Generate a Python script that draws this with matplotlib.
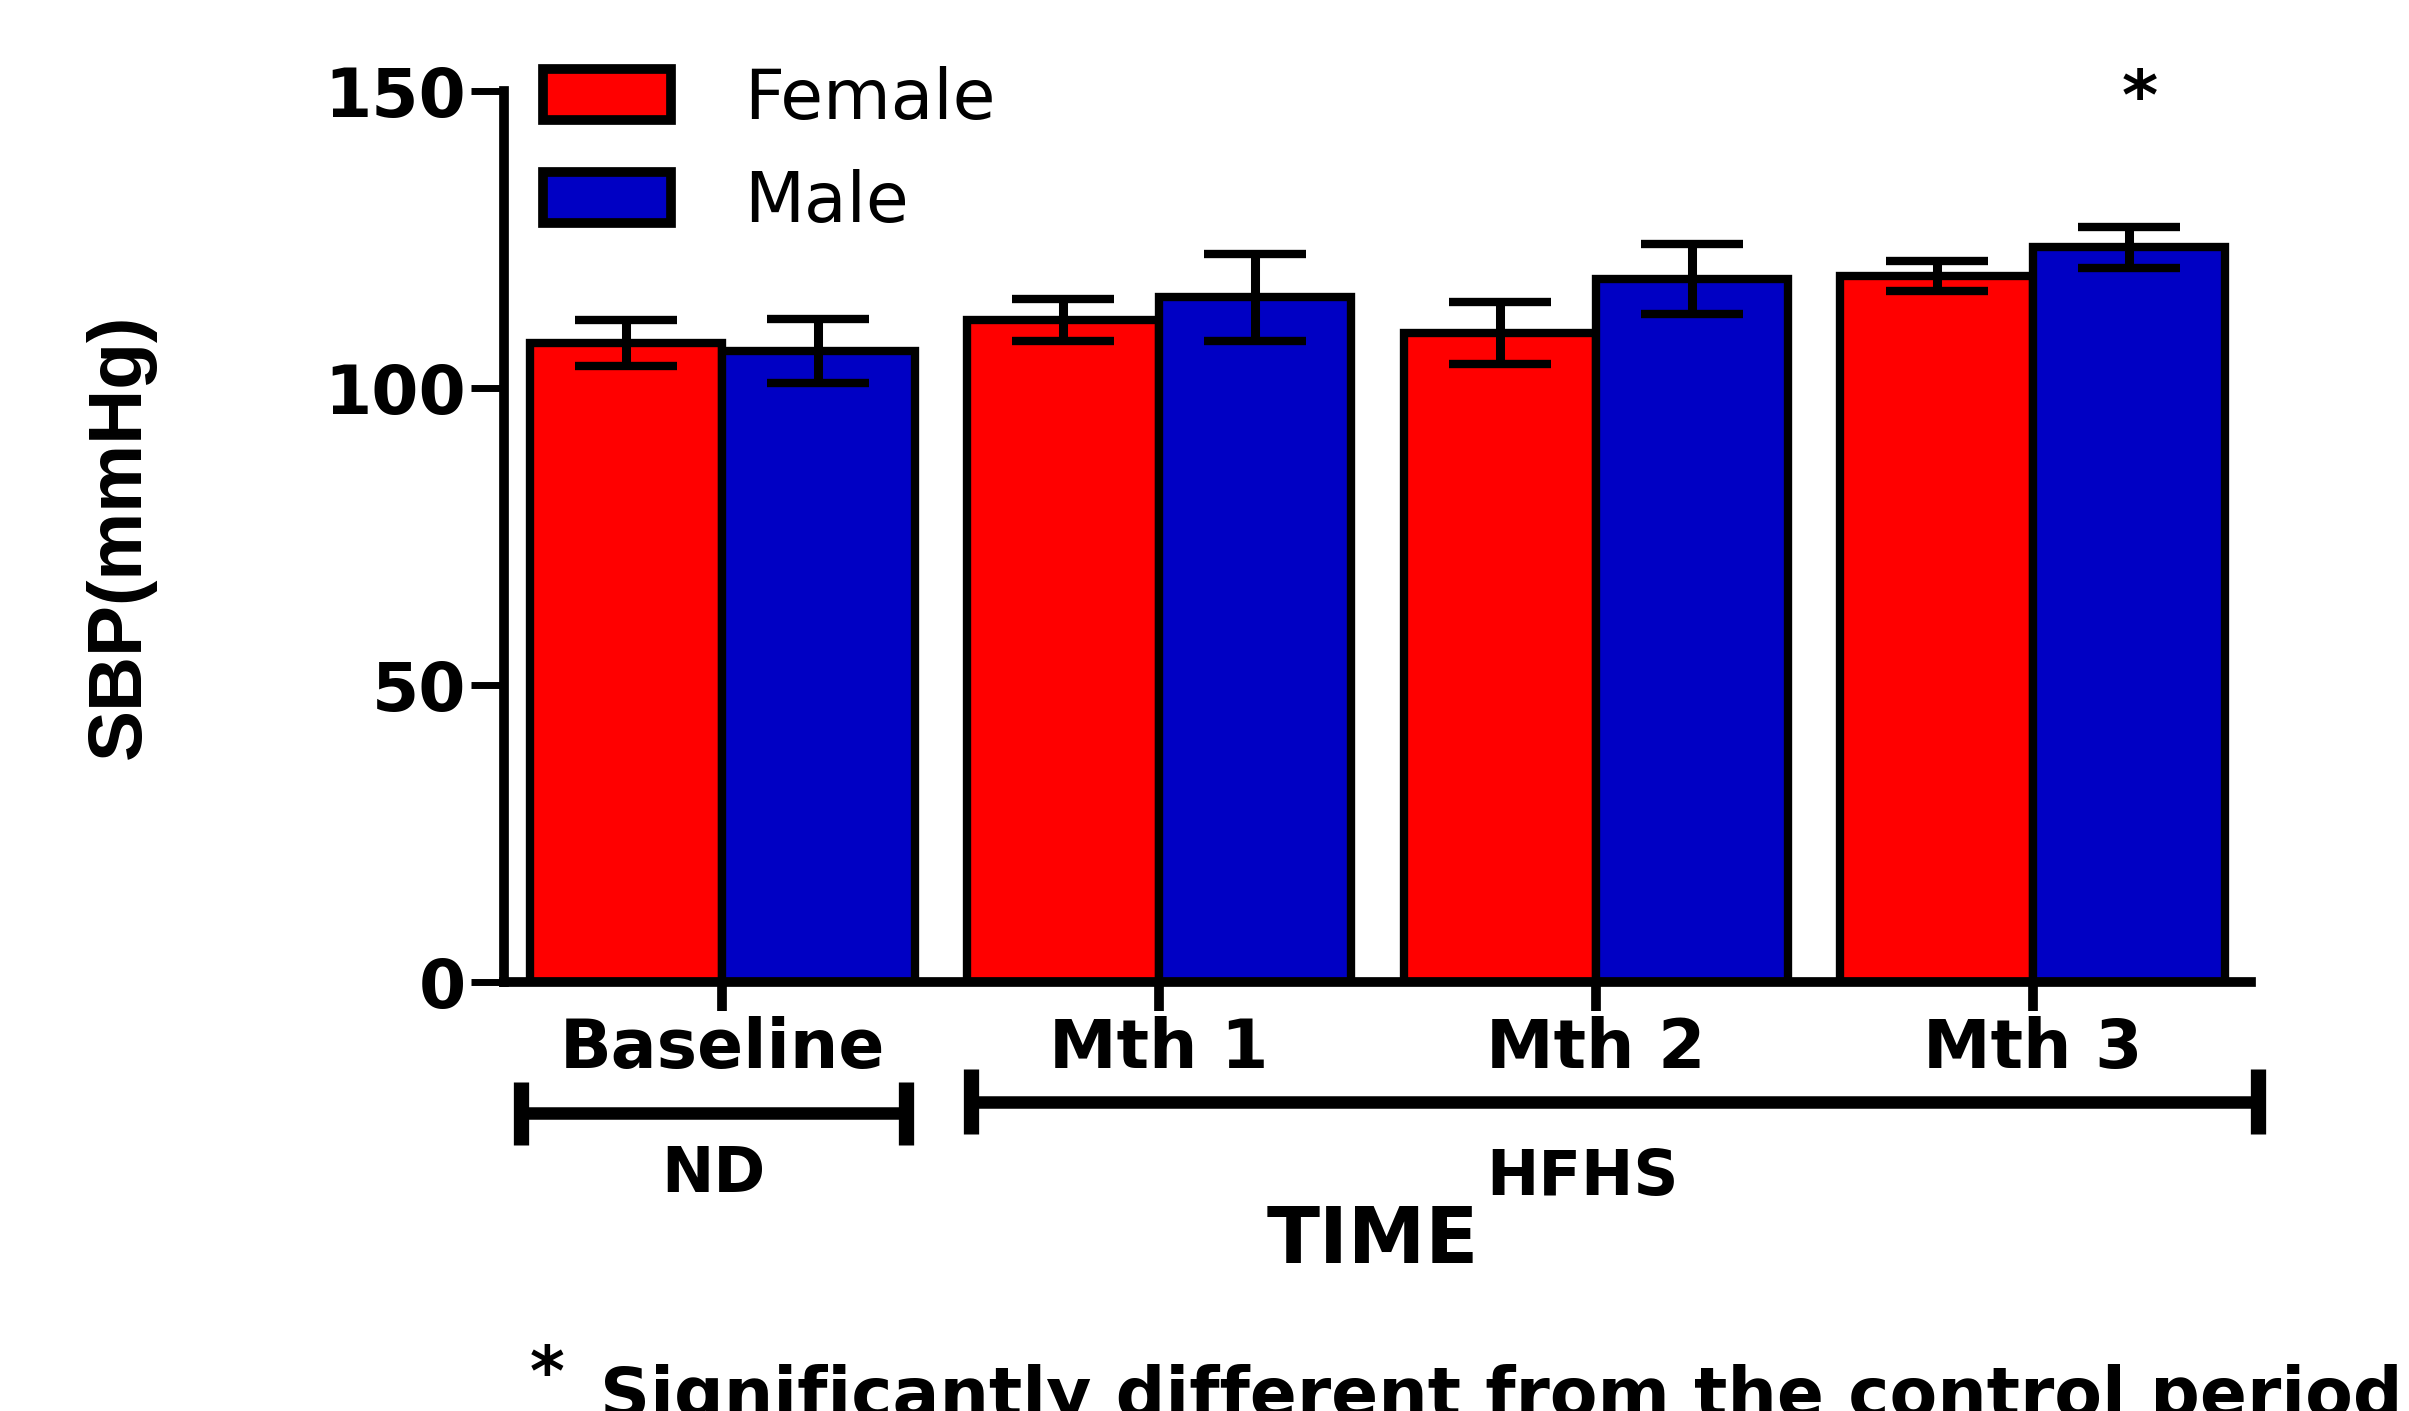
import numpy as np
import matplotlib
matplotlib.use('Agg')
import matplotlib.pyplot as plt

## data
groups = ['Baseline', 'Mth 1', 'Mth 2', 'Mth 3']
female_mean = [107.5, 111.4, 109.2, 118.8]
female_sem = [3.85, 3.5, 5.2, 2.45]
male_mean = [106.2, 115.2, 118.3, 123.6]
male_sem = [5.35, 7.3, 5.85, 3.45]
y_ticks = [0, 50, 100, 150]

# diet periods below the axis: (label, first group, last group)
periods = [('ND', 0, 0), ('HFHS', 1, 3)]

female_color = '#FF0000'
male_color = '#0000C4'

plt.rcParams['font.family'] = ['DejaVu Sans']

fig = plt.figure(figsize=(24.09, 14.11), dpi=100)
ax = fig.add_axes([0.2092, 0.3042, 0.7252, 0.6316])

x = np.arange(len(groups))
w = 0.44
off = 0.22

ax.bar(x - off, female_mean, w, color=female_color, edgecolor='black',
       linewidth=6, label='Female', zorder=2)
ax.bar(x + off, male_mean, w, color=male_color, edgecolor='black',
       linewidth=6, label='Male', zorder=2)
ax.errorbar(x - off, female_mean, yerr=female_sem, fmt='none', ecolor='black',
            elinewidth=6.5, capsize=37, capthick=6, zorder=3)
ax.errorbar(x + off, male_mean, yerr=male_sem, fmt='none', ecolor='black',
            elinewidth=6.5, capsize=37, capthick=6, zorder=3)

## axes styling
ax.set_xlim(-0.5, 3.5)
ax.set_ylim(0, 150)
ax.set_yticks(y_ticks)
ax.set_xticks(x)
ax.set_xticklabels(groups, fontsize=49, fontweight='bold')
for lab in ax.get_yticklabels():
    lab.set_fontsize(49)
    lab.set_fontweight('bold')
ax.spines['top'].set_visible(False)
ax.spines['right'].set_visible(False)
ax.spines['left'].set_linewidth(7)
ax.spines['bottom'].set_linewidth(7)
ax.tick_params(axis='y', length=24, width=5, pad=3)
ax.tick_params(axis='x', length=21, width=7, pad=4)

ax.text(-0.2198, 0.5, 'SBP(mmHg)', transform=ax.transAxes, rotation=90,
        ha='center', va='center', fontsize=55, fontweight='bold',
        family=['Liberation Sans', 'DejaVu Sans'])

## period brackets under the tick labels
bracket_y = {'ND': -22.1, 'HFHS': -20.2}
cap_half = {'ND': 5.3, 'HFHS': 5.45}
x_ends = {'ND': (-0.46, 0.42), 'HFHS': (0.57, 3.515)}
label_pos = {'ND': (-0.02, -32.5), 'HFHS': (1.97, -33.0)}
for name, g0, g1 in periods:
    x0, x1 = x_ends[name]
    yb = bracket_y[name]
    ax.plot([x0, x1], [yb, yb], color='black', lw=9, clip_on=False,
            solid_capstyle='butt')
    for xe in (x0, x1):
        ax.plot([xe, xe], [yb - cap_half[name], yb + cap_half[name]],
                color='black', lw=11, clip_on=False, solid_capstyle='butt')
    lx, ly = label_pos[name]
    ax.text(lx, ly, name, ha='center', va='center', fontsize=45,
            fontweight='bold', clip_on=False)

ax.text(1.49, -43.6, 'TIME', ha='center', va='center', fontsize=56,
        fontweight='bold', clip_on=False)

# significance mark over Mth 3 male
ax.text(x[3] + off + 0.025, 145.2, '*', ha='center', va='baseline', fontsize=50,
        fontweight='bold', clip_on=False)

## legend
leg = ax.legend(loc='upper left', bbox_to_anchor=(543 / 2409, 1 - 66 / 1411),
                bbox_transform=fig.transFigure, frameon=False, fontsize=50,
                handlelength=1.85, handleheight=0.75, handletextpad=1.05,
                labelspacing=0.52, borderpad=0, borderaxespad=0)
for h in leg.legend_handles:
    h.set_linewidth(7)

## footnote (cut at the bottom edge, as in the original)
fig.text(0.2272, 0.025, '*', ha='center', va='center', fontsize=48,
         fontweight='bold')
fig.text(0.249, -0.0045, 'Significantly different from the control period',
         ha='left', va='baseline', fontsize=50, fontweight='bold')

fig.savefig('out.png', dpi=100)
